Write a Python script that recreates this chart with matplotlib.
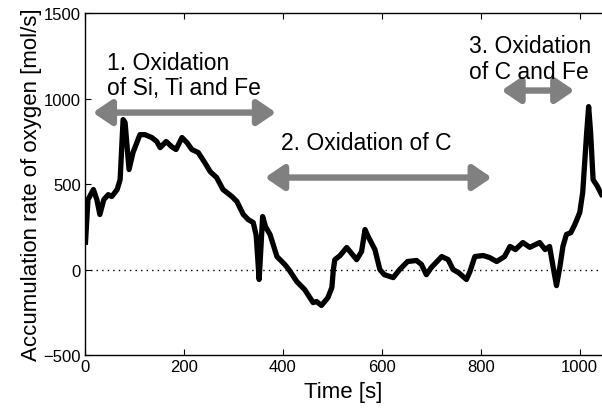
import matplotlib
matplotlib.use("Agg")
import matplotlib.pyplot as plt
from matplotlib.patches import FancyArrowPatch

plt.rcParams['font.family'] = ['Liberation Sans', 'DejaVu Sans']

# Time [s] and accumulation rate of oxygen [mol/s]
time_s = [1, 6, 17, 24, 30, 38, 47, 54, 65, 71, 77, 81, 89, 97, 111, 121, 135,
          145, 152, 164, 175, 184, 196, 206, 216, 229, 242, 253, 266, 279, 297,
          307, 320, 330, 340, 346, 352, 356, 359, 365, 374, 388, 404, 412, 428,
          444, 461, 468, 478, 491, 499, 502, 505, 515, 529, 549, 559, 566, 572,
          586, 596, 605, 623, 636, 652, 670, 680, 690, 700, 721, 734, 744, 755,
          771, 778, 788, 805, 818, 832, 848, 859, 870, 885, 899, 919, 930, 939,
          946, 953, 960, 966, 973, 982, 990, 1000, 1006, 1014, 1018, 1022, 1027,
          1035, 1044]
rate = [160, 409, 468, 409, 322, 409, 438, 427, 468, 526, 877, 860, 585, 684,
        789, 789, 772, 749, 713, 749, 719, 702, 772, 743, 702, 684, 626, 573,
        538, 468, 427, 398, 322, 292, 275, 200, -58, 150, 310, 250, 205, 76, 29,
        0, -70, -117, -193, -187, -210, -164, -105, 0, 58, 80, 129, 58, 105,
        234, 195, 117, 0, -30, -47, 0, 47, 53, 30, -30, 12, 76, 58, 0, -18,
        -58, -12, 76, 82, 70, 47, 76, 135, 117, 158, 130, 158, 117, 135, 18,
        -94, 18, 135, 205, 216, 263, 333, 450, 800, 953, 800, 526, 490, 440]

# Phase arrows: (start, end, level) and labels
phase_arrows = [(16, 386, 918), (364, 822, 538), (842, 989, 1047)]
phase_labels = ["1. Oxidation\nof Si, Ti and Fe", "2. Oxidation of C",
                "3. Oxidation\nof C and Fe"]
label_pos = [(44, 1140), (396, 743), (776, 1234)]

fig = plt.figure(figsize=(6.02, 4.14), dpi=100)
ax = fig.add_axes([0.1412, 0.140, 0.8588, 0.826])

ax.plot(time_s, rate, color='black', lw=3.8, solid_joinstyle='round', zorder=3)
ax.axhline(0, color='black', lw=1.0, ls=(0, (1, 3)), zorder=2)

for (x0, x1, yv) in phase_arrows:
    arr = FancyArrowPatch((x0, yv), (x1, yv),
                          arrowstyle='<|-|>,head_length=11,head_width=7.5',
                          mutation_scale=1, lw=4.6, color='#808080',
                          shrinkA=0, shrinkB=0, zorder=4)
    ax.add_patch(arr)

for txt, (xp, yp) in zip(phase_labels, label_pos):
    ax.text(xp, yp, txt, fontsize=16.5, ha='left', va='center',
            linespacing=1.12, zorder=5)

ax.set_xlim(0, 1045)
ax.set_ylim(-500, 1500)
ax.set_xticks([0, 200, 400, 600, 800, 1000])
ax.set_yticks([-500, 0, 500, 1000, 1500])
ax.tick_params(direction='in', top=True, right=False, labelsize=12,
               length=4, width=0.8, pad=3)
ax.spines['right'].set_visible(False)
for s in ['left', 'bottom', 'top']:
    ax.spines[s].set_linewidth(1.0)

ax.set_xlabel('Time [s]', fontsize=16, labelpad=5)
ax.set_ylabel('Accumulation rate of oxygen [mol/s]', fontsize=16, labelpad=1)

fig.savefig('out.png', dpi=100)
